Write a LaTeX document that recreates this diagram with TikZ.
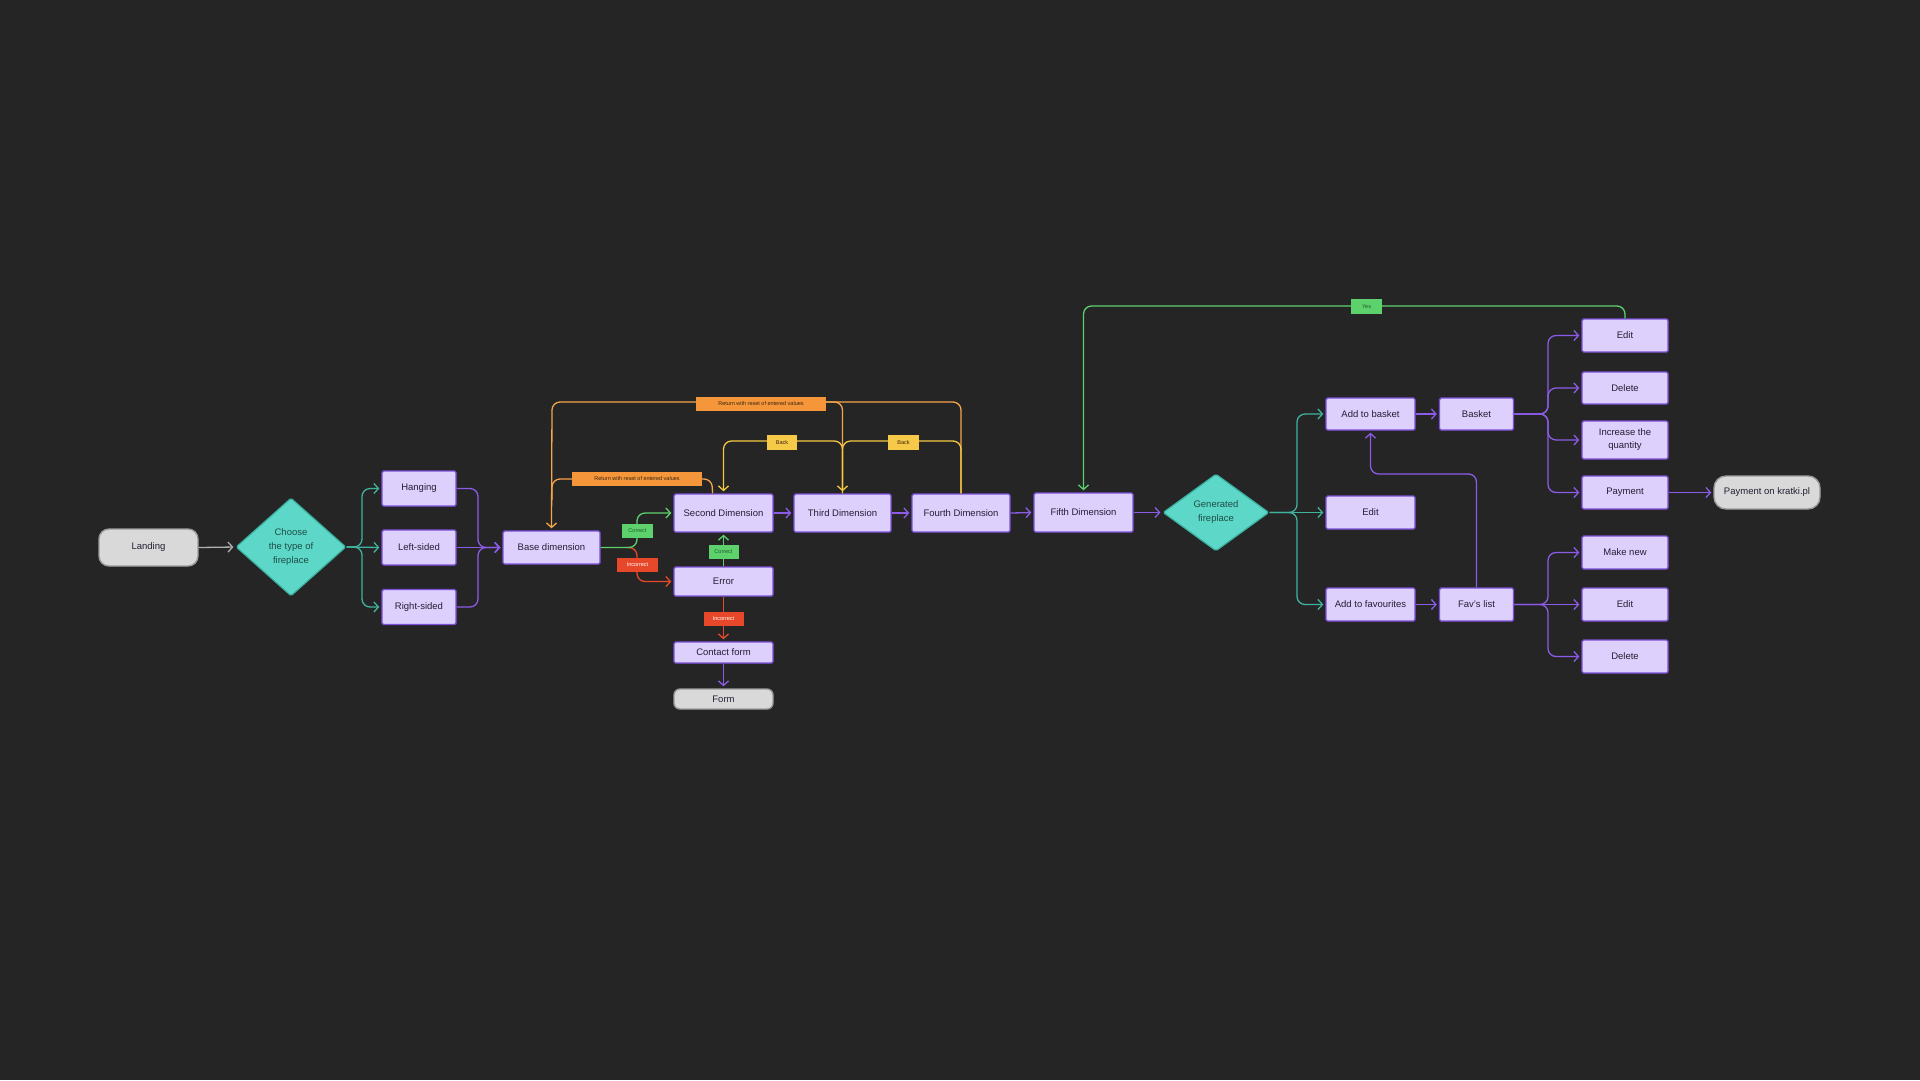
\documentclass[tikz,border=0pt]{standalone}
\usepackage{fontspec}
\setmainfont{Liberation Sans}
\usetikzlibrary{shapes.geometric,arrows.meta,calc}
\definecolor{bg}{HTML}{252525}
\definecolor{boxfill}{HTML}{DDD0FD}
\definecolor{boxline}{HTML}{7B4FD9}
\definecolor{boxtext}{HTML}{251E33}
\definecolor{termfill}{HTML}{D9D9D9}
\definecolor{termline}{HTML}{9C9C9C}
\definecolor{diafill}{HTML}{5DD8C8}
\definecolor{dialine}{HTML}{39B09E}
\definecolor{diatext}{HTML}{1F4D46}
\definecolor{purp}{HTML}{8C5BE8}
\definecolor{tealc}{HTML}{40B39F}
\definecolor{grayc}{HTML}{B0B0B0}
\definecolor{greenc}{HTML}{5DD26C}
\definecolor{greentext}{HTML}{1F5A2A}
\definecolor{redc}{HTML}{E8482A}
\definecolor{orangec}{HTML}{F5A54A}
\definecolor{orangefill}{HTML}{F5963A}
\definecolor{orangetext}{HTML}{3A2410}
\definecolor{yellowc}{HTML}{F5C842}
\definecolor{yellowfill}{HTML}{F7C948}
\tikzset{
  box/.style={draw=boxline, fill=boxfill, line width=1.4pt, rounded corners=1.5pt, text=boxtext,
    font=\fontsize{9.5}{13}\selectfont, inner sep=0pt, align=center},
  term/.style={draw=termline, fill=termfill, line width=1.4pt, rounded corners=10pt, text=boxtext,
    font=\fontsize{9.5}{13}\selectfont, inner sep=0pt, align=center},
  dia/.style={diamond, draw=dialine, fill=diafill, line width=1.2pt, inner sep=0pt, text=diatext,
    align=center, font=\fontsize{9.5}{14}\selectfont, rounded corners=1.5pt},
  con/.style={line width=1.3pt, rounded corners=8pt},
  arr/.style={-{Straight Barb[length=4.5pt,width=10pt]}, shorten >=2pt},
  lab/.style={font=\fontsize{5.5}{6}\selectfont, inner sep=0pt, minimum height=14pt}
}
\begin{document}
\begin{tikzpicture}[x=1pt,y=-1pt]
\path[fill=bg] (0,0) rectangle (1920,1080);
\useasboundingbox (0,0) rectangle (1920,1080);

% nodes
\node[term, minimum width=99pt, minimum height=37pt] (landing) at (148.5,547.5) {Landing};
\node[dia, minimum width=110pt, minimum height=98pt] (dia1) at (291,547) {Choose\\the type of\\fireplace};
\node[box, minimum width=74pt, minimum height=35pt] (hang) at (419,488.5) {Hanging};
\node[box, minimum width=74pt, minimum height=35pt] (lefts) at (419,547.5) {Left-sided};
\node[box, minimum width=74pt, minimum height=35pt] (rights) at (419,607) {Right-sided};
\node[box, minimum width=97pt, minimum height=33pt] (base) at (551.5,547.5) {Base dimension};
\node[box, minimum width=99pt, minimum height=38pt] (second) at (723.5,513) {Second Dimension};
\node[box, minimum width=97pt, minimum height=38pt] (third) at (842.5,513) {Third Dimension};
\node[box, minimum width=98pt, minimum height=38pt] (fourth) at (961,513) {Fourth Dimension};
\node[box, minimum width=99pt, minimum height=39pt] (fifth) at (1083.5,512.5) {Fifth Dimension};
\node[box, minimum width=99pt, minimum height=29pt] (error) at (723.5,581.5) {Error};
\node[box, minimum width=99pt, minimum height=21pt] (contact) at (723.5,652.5) {Contact form};
\node[term, minimum width=99pt, minimum height=20pt, rounded corners=6pt] (form) at (723.5,699) {Form};
\node[dia, minimum width=106pt, minimum height=77pt] (dia2) at (1216,512.5) {Generated\\fireplace};
\node[box, minimum width=89pt, minimum height=32pt] (addb) at (1370.5,414) {Add to basket};
\node[box, minimum width=89pt, minimum height=33pt] (editm) at (1370.5,512.5) {Edit};
\node[box, minimum width=89pt, minimum height=33pt] (addf) at (1370.5,604.5) {Add to favourites};
\node[box, minimum width=74pt, minimum height=32pt] (basket) at (1476.5,414) {Basket};
\node[box, minimum width=74pt, minimum height=33pt] (fav) at (1476.5,604.5) {Fav’s list};
\node[box, minimum width=86pt, minimum height=33pt] (edit1) at (1625,335.5) {Edit};
\node[box, minimum width=86pt, minimum height=32pt] (del1) at (1625,388) {Delete};
\node[box, minimum width=86pt, minimum height=38pt] (incq) at (1625,440) {Increase the\\quantity};
\node[box, minimum width=86pt, minimum height=33pt] (pay) at (1625,492.5) {Payment};
\node[term, minimum width=106pt, minimum height=33pt, rounded corners=12pt] (kratki) at (1767,492.5) {Payment on kratki.pl};
\node[box, minimum width=86pt, minimum height=33pt] (mnew) at (1625,552.5) {Make new};
\node[box, minimum width=86pt, minimum height=33pt] (edit2) at (1625,604.5) {Edit};
\node[box, minimum width=86pt, minimum height=33pt] (del2) at (1625,656.5) {Delete};

% start
\draw[con,grayc,arr] (landing.east) -- (dia1.west);
\draw[con,tealc,arr] (dia1.east) -- (362,547) |- (hang.west);
\draw[con,tealc,arr] (dia1.east) -- (lefts.west);
\draw[con,tealc,arr] (dia1.east) -- (362,547) |- (rights.west);
\draw[con,purp,arr] (hang.east) -- (478,488.5) |- (base.west);
\draw[con,purp,arr] (lefts.east) -- (base.west);
\draw[con,purp,arr] (rights.east) -- (478,607) |- (base.west);

% base -> second / error
\draw[con,redc,arr] (626,547.5) -- (637,547.5) |- (error.west);
\draw[con,greenc,arr] (base.east) -- (637,547.5) |- (second.west);
\draw[con,greenc,arr] (error.north) -- (second.south);
\draw[con,redc,arr] (error.south) -- (contact.north);
\draw[con,purp,arr] (contact.south) -- (form.north);

% main chain
\draw[con,purp,arr] (second.east) -- (third.west);
\draw[con,purp,arr] (third.east) -- (fourth.west);
\draw[con,purp,arr] (fourth.east) -- (fifth.west);
\draw[con,purp,arr] (fifth.east) -- (dia2.west);

% return loops
\draw[con,orangec,arr] (fourth.north) -- (961,402) -- (552,402) -- (base.north);
\draw[con,orangec,shorten >=3pt] (820,402) -- (842.5,402) -- (third.north);
\draw[con,orangec] ($(second.north)+(-11,0)$) -- (712,479) -- (552,479) -- (552,500);
\draw[con,yellowc,arr] (third.north) -- (842.5,441) -- (723.5,441) -- (second.north);
\draw[con,yellowc,arr] (fourth.north) -- (961,441) -- (842.5,441) -- (third.north);

% yes loop
\draw[con,greenc,arr] (edit1.north) -- (1625,306) -- (1083.5,306) -- (fifth.north);

% generated fireplace branches
\draw[con,tealc,arr] (dia2.east) -- (1297,512.5) |- (addb.west);
\draw[con,tealc,arr] (dia2.east) -- (editm.west);
\draw[con,tealc,arr] (dia2.east) -- (1297,512.5) |- (addf.west);
\draw[con,purp,arr] (addb.east) -- (basket.west);
\draw[con,purp,arr] (addf.east) -- (fav.west);
\draw[con,purp,arr] (fav.north) -- (1476.5,474) -| (addb.south);

% basket branches
\draw[con,purp,arr] (basket.east) -- (1548,414) |- (edit1.west);
\draw[con,purp,arr] (basket.east) -- (1548,414) |- (del1.west);
\draw[con,purp,arr] (basket.east) -- (1548,414) |- (incq.west);
\draw[con,purp,arr] (basket.east) -- (1548,414) |- (pay.west);
\draw[con,purp,arr] (pay.east) -- (kratki.west);

% fav branches
\draw[con,purp,arr] (fav.east) -- (1548,604.5) |- (mnew.west);
\draw[con,purp,arr] (fav.east) -- (edit2.west);
\draw[con,purp,arr] (fav.east) -- (1548,604.5) |- (del2.west);

% labels
\node[lab, fill=greenc, text=greentext, minimum width=31pt] (lc1) at (637.5,530.5) {Correct};
\node[lab, fill=redc, text=white, minimum width=41pt] (li1) at (637.5,565) {Incorrect};
\node[lab, fill=greenc, text=greentext, minimum width=30pt] (lc2) at (723.5,552) {Correct};
\node[lab, fill=redc, text=white, minimum width=40pt] (li2) at (723.5,618.5) {Incorrect};
\node[lab, fill=orangefill, text=orangetext, minimum width=130pt] (lr1) at (761,404) {Return with reset of entered values};
\node[lab, fill=orangefill, text=orangetext, minimum width=130pt] (lr2) at (637,479) {Return with reset of entered values};
\node[lab, fill=yellowfill, text=orangetext, minimum width=30pt, minimum height=15pt] (lb1) at (782,442.5) {Back};
\node[lab, fill=yellowfill, text=orangetext, minimum width=31pt, minimum height=15pt] (lb2) at (903.5,442.5) {Back};
\node[lab, fill=greenc, text=greentext, minimum width=31pt, minimum height=15pt] (ly) at (1366.5,306.5) {Yes};
\end{tikzpicture}
\end{document}
